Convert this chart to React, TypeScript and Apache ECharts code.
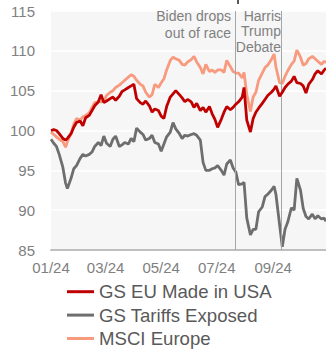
import React, { useEffect, useRef } from "react";
import * as echarts from "echarts";

const dates = [
  "2024-01-01","2024-01-04","2024-01-07","2024-01-10","2024-01-14","2024-01-17","2024-01-19","2024-01-23","2024-01-26","2024-01-29",
  "2024-02-02","2024-02-05","2024-02-08","2024-02-12","2024-02-15","2024-02-18","2024-02-22","2024-02-25","2024-02-28",
  "2024-03-02","2024-03-06","2024-03-09","2024-03-12","2024-03-16","2024-03-19","2024-03-22","2024-03-26","2024-03-29",
  "2024-04-01","2024-04-04","2024-04-08","2024-04-11","2024-04-14","2024-04-18","2024-04-21","2024-04-24","2024-04-28",
  "2024-05-01","2024-05-04","2024-05-07","2024-05-11","2024-05-14","2024-05-17","2024-05-21","2024-05-24","2024-05-27",
  "2024-05-30","2024-06-03","2024-06-06","2024-06-09","2024-06-13","2024-06-16","2024-06-19","2024-06-23","2024-06-26",
  "2024-06-29","2024-07-02","2024-07-06","2024-07-09","2024-07-12","2024-07-16","2024-07-19","2024-07-22","2024-07-25",
  "2024-07-29","2024-07-31","2024-08-03","2024-08-07","2024-08-10","2024-08-13","2024-08-16","2024-08-20","2024-08-23",
  "2024-08-26","2024-08-30","2024-09-02","2024-09-04","2024-09-08","2024-09-11","2024-09-14","2024-09-17","2024-09-21",
  "2024-09-24","2024-09-27","2024-10-01","2024-10-04","2024-10-07","2024-10-10","2024-10-14","2024-10-17","2024-10-20",
  "2024-10-24","2024-10-27","2024-10-29",
];

const madeInUSA = [
  100.0,100.1,100.0,99.6,99.0,98.8,99.0,99.6,100.4,101.0,
  101.2,100.6,101.6,101.9,102.5,103.1,103.6,104.5,103.5,
  103.7,104.0,104.2,103.8,104.3,104.9,105.1,105.4,105.6,
  105.8,104.0,103.5,103.3,103.7,103.1,102.3,102.7,102.5,
  101.8,101.5,103.0,104.2,104.6,105.0,104.5,104.1,103.6,
  103.9,103.6,102.9,103.4,102.5,102.9,102.3,103.0,102.1,
  101.4,100.4,101.4,102.3,103.0,102.6,102.9,103.3,103.6,
  104.2,105.4,101.3,99.8,101.5,102.3,102.8,103.4,103.9,
  104.4,104.8,105.2,105.6,104.3,104.8,105.4,105.8,106.2,
  106.8,106.0,105.9,105.6,104.7,105.8,106.4,107.1,107.5,
  107.1,107.6,107.8,
];

const tariffsExposed = [
  98.9,98.4,98.0,97.0,95.4,93.4,92.7,94.0,95.2,95.6,
  96.5,97.0,96.8,97.0,97.3,98.0,98.5,98.1,99.3,
  98.4,98.0,98.9,99.3,98.0,98.2,98.5,98.3,99.0,
  98.6,100.3,99.8,99.5,98.8,99.0,99.4,98.5,98.3,
  97.4,98.3,99.2,99.8,101.0,100.2,99.6,99.0,99.4,
  99.3,99.5,99.6,99.4,98.8,96.0,95.0,95.0,95.2,
  95.3,95.6,95.0,94.4,95.8,96.3,95.3,94.8,93.2,
  93.3,93.5,89.0,86.9,87.6,87.6,89.8,90.4,91.7,
  92.0,92.5,93.0,92.0,88.2,85.4,87.6,88.5,90.3,
  90.0,94.0,92.5,90.2,89.2,88.9,89.5,88.9,89.3,
  88.9,89.0,88.6,
];

const msciEurope = [
  99.8,99.5,99.2,98.9,98.6,97.9,98.6,99.6,100.8,101.5,
  101.3,101.7,101.9,102.2,102.9,103.5,103.6,103.6,103.7,
  104.4,104.8,105.0,105.4,105.7,106.0,106.3,106.7,107.0,
  106.8,106.3,105.8,105.6,104.8,104.2,104.5,105.8,105.4,
  106.0,106.5,107.6,108.8,109.2,109.0,108.8,108.3,108.2,
  108.6,108.9,109.3,108.6,107.9,107.1,108.3,107.4,107.6,
  107.3,107.6,107.6,107.3,108.8,108.0,107.4,107.2,107.2,
  106.6,107.3,104.5,102.4,104.2,104.8,106.3,107.2,107.9,
  108.2,108.9,109.6,108.0,106.0,105.9,106.8,107.5,108.3,
  108.7,110.1,109.2,108.2,108.4,109.0,109.3,109.0,108.7,
  108.3,108.7,108.5,
];

const seriesNames = ["GS EU Made in USA", "GS Tariffs Exposed", "MSCI Europe"];
const tickDates = ["2024-01-01", "2024-03-01", "2024-05-01", "2024-07-01", "2024-09-01"];
const tickLabels = ["01/24", "03/24", "05/24", "07/24", "09/24"];
const eventDates = ["2024-07-21", "2024-09-10"];
const eventLabels = ["Biden drops\nout of race", "Harris\nTrump\nDebate"];

const toTs = (s: string) => {
  const [y, m, d] = s.split("-").map(Number);
  return Date.UTC(y, m - 1, d);
};

export default function App() {
  const ref = useRef<HTMLDivElement>(null);
  useEffect(() => {
    if (!ref.current) return;
    const chart = echarts.init(ref.current, undefined, { renderer: "svg" });
    const xs = dates.map(toTs);
    const mk = (vals: number[]) => vals.map((v, i) => [xs[i], v]);
    const font = "'Liberation Sans', Arial, sans-serif";
    const colors = ["#c00000", "#6e6e6e", "#f79a7e"];
    const grid = { left: 51, top: 11, right: 0, bottom: 99 };
    const xMin = toTs("2024-01-01");
    const xMax = toTs("2024-10-29");
    const tickTs = tickDates.map(toTs);
    const lw = 2.8;

    chart.setOption({
      animation: false,
      color: colors,
      grid: { ...grid, show: true, backgroundColor: "#f6f6f6", borderWidth: 0 },
      xAxis: {
        type: "value",
        min: xMin,
        max: xMax,
        axisLine: { show: true, onZero: false, lineStyle: { color: "#bfbfbf", width: 2 } },
        axisTick: { show: false },
        splitLine: { show: false },
        axisLabel: {
          customValues: tickTs,
          color: "#808080",
          fontSize: 15,
          fontFamily: font,
          margin: 10,
          formatter: (v: number) => {
            const i = tickTs.indexOf(v);
            return i >= 0 ? tickLabels[i] : "";
          },
        },
      },
      yAxis: {
        type: "value",
        min: 85,
        max: 115,
        interval: 5,
        axisLine: { show: false },
        axisTick: { show: false },
        splitLine: { show: true, lineStyle: { color: "#ffffff", width: 1.5 } },
        axisLabel: { color: "#808080", fontSize: 15, fontFamily: font, margin: 16 },
      },
      legend: {
        orient: "vertical",
        left: 67,
        top: 280,
        height: 75,
        padding: 0,
        itemGap: 0,
        itemWidth: 27,
        itemHeight: 3,
        icon: "rect",
        data: seriesNames,
        textStyle: { color: "#595959", fontSize: 18.6, fontFamily: font, lineHeight: 23.4 },
      },
      series: [
        {
          name: seriesNames[1],
          type: "line",
          data: mk(tariffsExposed),
          showSymbol: false,
          lineStyle: { width: lw, color: colors[1] },
          itemStyle: { color: colors[1] },
          z: 3,
          markLine: {
            silent: true,
            symbol: "none",
            label: { show: false },
            lineStyle: { color: "#a6a6a6", width: 1, type: "solid" },
            data: eventDates.map((d) => ({ xAxis: toTs(d) })),
          },
        },
        {
          name: seriesNames[2],
          type: "line",
          data: mk(msciEurope),
          showSymbol: false,
          lineStyle: { width: lw, color: colors[2] },
          itemStyle: { color: colors[2] },
          z: 4,
        },
        {
          name: seriesNames[0],
          type: "line",
          data: mk(madeInUSA),
          showSymbol: false,
          lineStyle: { width: lw, color: colors[0] },
          itemStyle: { color: colors[0] },
          z: 5,
        },
      ],
      graphic: [
        {
          type: "text",
          x: 231,
          y: 8,
          z: 10,
          style: {
            text: eventLabels[0],
            fill: "#808080",
            fontSize: 14,
            fontFamily: font,
            lineHeight: 16.5,
            align: "right",
            verticalAlign: "top",
          },
        },
        {
          type: "text",
          x: 281,
          y: 8,
          z: 10,
          style: {
            text: eventLabels[1],
            fill: "#808080",
            fontSize: 14,
            fontFamily: font,
            lineHeight: 15.5,
            align: "right",
            verticalAlign: "top",
          },
        },
        { type: "rect", shape: { x: 237, y: 0, width: 2, height: 4 }, style: { fill: "#595959" } },
      ],
    });
    return () => chart.dispose();
  }, []);
  return (
    <div
      ref={ref}
      style={{ position: "fixed", left: 0, top: 0, width: 326, height: 349, background: "#ffffff" }}
    />
  );
}
